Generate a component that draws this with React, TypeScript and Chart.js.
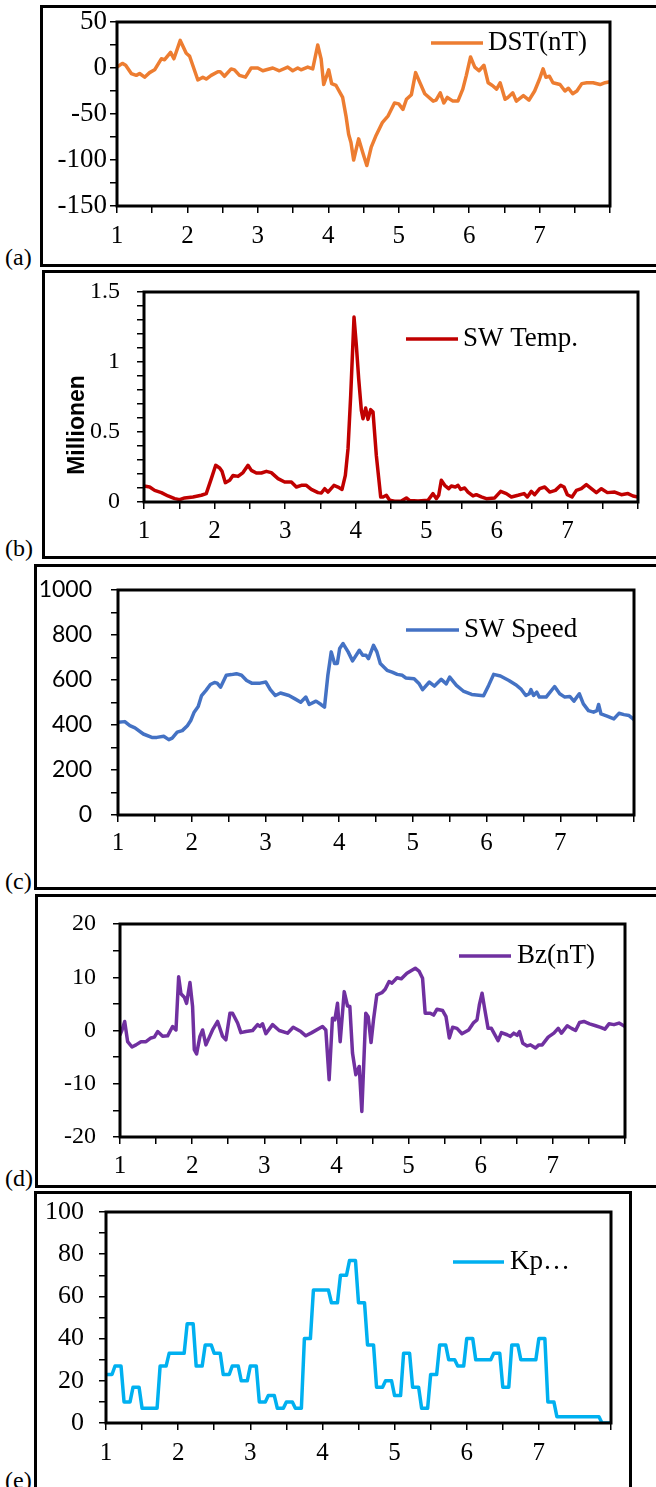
import React, { useEffect, useRef } from 'react';
import { Chart, registerables } from 'chart.js';
Chart.register(...registerables);

const SERIF = '"Liberation Serif", "Times New Roman", Times, serif';
const SANS = 'Lato, "Liberation Sans", sans-serif';

// ---------- DATA (x in days 1..8) ----------
const dstX = [1.000,1.076,1.123,1.203,1.274,1.321,1.392,1.463,1.534,1.629,1.676,1.761,1.808,1.898,1.983,2.030,2.148,2.219,2.267,2.337,2.432,2.465,2.526,2.621,2.668,2.739,2.824,2.905,2.999,3.070,3.212,3.306,3.424,3.495,3.566,3.613,3.708,3.779,3.850,3.898,3.935,4.006,4.048,4.110,4.204,4.251,4.289,4.322,4.360,4.431,4.490,4.547,4.610,4.680,4.770,4.850,4.940,5.000,5.060,5.110,5.180,5.240,5.290,5.370,5.490,5.530,5.590,5.640,5.690,5.770,5.840,5.910,5.960,6.020,6.080,6.140,6.210,6.270,6.330,6.390,6.440,6.510,6.550,6.620,6.670,6.770,6.850,6.930,7.000,7.050,7.090,7.140,7.190,7.290,7.360,7.410,7.470,7.530,7.600,7.670,7.760,7.860,7.930,8.000];
const dstNT = [1,5,3,-6,-8,-6,-10,-5,-2,10,9,17,10,30,16,13,-13,-10,-12,-8,-4,-4,-9,-1,-2,-8,-10,0,0,-3,0,-3,1,-3,0,-2,1,-1,25,10,-18,-2,-17,-19,-32,-52,-72,-81,-100,-77,-92,-106,-86,-73,-59,-52,-38,-39,-45,-34,-29,-5,-14,-28,-36,-35,-27,-38,-32,-36,-36,-23,-8,12,1,-3,3,-16,-19,-23,-16,-34,-32,-27,-36,-30,-35,-25,-12,-1,-10,-9,-16,-18,-25,-22,-28,-25,-17,-16,-16,-18,-16,-15];

const tempX = [1.000,1.080,1.151,1.246,1.340,1.435,1.505,1.576,1.694,1.812,1.882,1.954,2.016,2.072,2.105,2.153,2.214,2.261,2.332,2.403,2.474,2.521,2.592,2.663,2.734,2.804,2.899,2.993,3.088,3.159,3.230,3.300,3.371,3.466,3.513,3.560,3.607,3.692,3.749,3.806,3.853,3.891,3.929,3.976,4.009,4.042,4.080,4.103,4.141,4.174,4.212,4.245,4.292,4.354,4.387,4.434,4.481,4.552,4.647,4.718,4.765,4.883,5.025,5.095,5.142,5.176,5.213,5.261,5.317,5.355,5.412,5.450,5.487,5.544,5.591,5.662,5.709,5.780,5.851,5.969,6.054,6.135,6.206,6.300,6.385,6.432,6.489,6.536,6.607,6.678,6.749,6.829,6.905,6.952,6.999,7.065,7.127,7.197,7.268,7.339,7.410,7.481,7.566,7.670,7.764,7.858,7.929,8.000];
const tempK = [114000,107000,83000,67000,43000,24000,17000,29000,36000,48000,60000,167000,262000,243000,219000,138000,155000,190000,183000,210000,262000,226000,207000,207000,219000,210000,167000,143000,143000,107000,119000,119000,90000,67000,64000,95000,71000,119000,107000,90000,190000,381000,762000,1321000,1119000,881000,655000,595000,671000,590000,660000,643000,333000,36000,36000,48000,12000,5000,7000,29000,10000,7000,12000,60000,24000,48000,155000,119000,95000,114000,107000,119000,90000,100000,71000,43000,52000,36000,24000,29000,76000,60000,36000,48000,60000,36000,76000,52000,95000,107000,71000,83000,119000,107000,52000,36000,83000,95000,124000,95000,67000,95000,67000,71000,52000,60000,43000,36000];

const speedX = [1.000,1.092,1.161,1.230,1.344,1.459,1.528,1.620,1.689,1.735,1.803,1.872,1.941,1.987,2.033,2.088,2.134,2.194,2.253,2.309,2.345,2.391,2.469,2.538,2.607,2.676,2.745,2.814,2.928,3.006,3.066,3.135,3.204,3.319,3.401,3.479,3.548,3.594,3.686,3.755,3.801,3.847,3.893,3.938,3.975,4.007,4.053,4.122,4.182,4.274,4.320,4.365,4.398,4.466,4.512,4.558,4.650,4.719,4.788,4.857,4.903,5.017,5.086,5.132,5.224,5.293,5.385,5.454,5.500,5.591,5.683,5.798,5.959,6.028,6.096,6.188,6.303,6.395,6.464,6.533,6.579,6.602,6.638,6.680,6.716,6.808,6.923,6.992,7.061,7.129,7.185,7.258,7.313,7.382,7.451,7.497,7.520,7.552,7.635,7.727,7.796,7.864,7.933,8.000];
const speedKms = [412,415,397,387,360,345,345,350,335,342,368,375,397,420,457,482,531,554,580,589,586,568,621,624,628,621,598,586,586,591,557,531,542,531,516,501,524,491,506,491,479,621,725,673,673,740,762,725,685,732,710,710,695,754,725,673,643,635,625,621,609,606,583,557,591,573,603,583,613,576,551,536,530,576,625,618,598,579,561,531,539,557,531,546,524,524,571,539,524,527,506,539,494,464,457,464,491,449,439,427,452,446,442,424];

const bzX = [1.000,1.028,1.065,1.106,1.166,1.222,1.291,1.360,1.429,1.476,1.522,1.591,1.660,1.729,1.776,1.813,1.845,1.891,1.923,1.970,2.006,2.030,2.062,2.108,2.145,2.191,2.283,2.353,2.422,2.468,2.524,2.560,2.630,2.676,2.745,2.838,2.907,2.939,2.976,3.022,3.115,3.207,3.322,3.401,3.507,3.576,3.659,3.807,3.853,3.899,3.945,3.978,4.015,4.052,4.108,4.154,4.186,4.223,4.269,4.316,4.352,4.407,4.440,4.480,4.514,4.560,4.630,4.676,4.730,4.770,4.840,4.900,4.977,5.093,5.148,5.194,5.230,5.300,5.347,5.394,5.472,5.519,5.565,5.611,5.671,5.740,5.833,5.903,5.949,5.981,6.019,6.056,6.102,6.148,6.241,6.287,6.366,6.412,6.458,6.505,6.537,6.583,6.644,6.690,6.759,6.806,6.852,6.935,7.014,7.074,7.120,7.199,7.259,7.315,7.370,7.430,7.509,7.593,7.662,7.722,7.778,7.847,7.917,8.000];
const bzNT = [-0.8,0.1,1.7,-2.1,-3.1,-2.7,-2.1,-2.1,-1.4,-1.25,-0.2,-1.1,-1.0,0.75,0.1,10.1,6.9,6.25,5.1,9.0,4.5,-3.6,-4.4,-1.1,0.1,-2.7,0.1,1.7,-1.1,-1.75,3.25,3.25,1.4,-0.4,-0.2,0,1.1,0.75,1.25,-0.6,1.1,0,-0.5,0.6,-0.2,-1.0,-0.4,0.75,0.1,-9.25,2.3,2.0,5.1,-2.1,7.3,4.6,4.5,-4.25,-8.3,-6.75,-15.2,3.25,2.6,-2.25,2.0,6.7,7.1,7.75,9.2,8.9,9.9,9.7,10.75,11.7,11.1,9.8,3.25,3.25,2.9,4.0,3.75,2.6,-1.4,0.6,0.4,-0.6,0.1,1.5,2.0,4.8,7.0,4.0,0.4,0.4,-1.9,-0.4,-0.8,-1.1,-0.5,-0.9,-0.2,-2.4,-2.9,-2.7,-3.3,-2.7,-2.7,-1.25,-0.5,0.4,-0.5,0.9,0.4,0,1.5,1.7,1.25,0.9,0.6,0.25,1.25,1.1,1.4,0.75];

// Kp x10, one value per 3-hour interval (8 per day, 7 days)
const kp3h = [23,27,10,17,7,7,27,33,33,47,27,37,33,23,27,20,27,10,13,7,10,7,40,63,63,57,70,77,57,37,17,20,13,33,17,7,23,37,30,27,40,30,30,33,17,37,30,30,40,10,3,3,3,3,3,0];

const xTickLabels = ['1', '2', '3', '4', '5', '6', '7'];

// ---------- build points ----------
const pairs = (xs: number[], ys: number[]) => xs.map((x, i) => ({ x, y: ys[i] }));
const kpPoints = (() => {
  const pts: { x: number; y: number }[] = [];
  for (let h = 0; h <= kp3h.length * 3; h++) {
    const v = kp3h[Math.min(Math.floor(h / 3), kp3h.length - 1)];
    pts.push({ x: 1 + h / 24, y: v });
  }
  return pts;
})();

const W = 656;
const X_AXIS_H = 50;

type PanelDef = {
  top: number; h: number;
  plot: { l: number; t: number; r: number; b: number };
  yMin: number; yMax: number; yStep: number; yLabelEvery: number; yDiv: number;
  yFont: string; ySize: number; yPad: number; xPad: number; xSize: number;
  label: string; color: string; points: { x: number; y: number }[];
  legend: { x1: number; x2: number; y: number; tx: number };
  yTitle?: { text: string; x: number; y: number };
};

const PANELS: PanelDef[] = [
  { top: 0, h: 270, plot: { l: 117, t: 22, r: 610, b: 206 }, yMin: -150, yMax: 50, yStep: 25, yLabelEvery: 50, yDiv: 1,
    yFont: SERIF, ySize: 27, yPad: 3, xPad: 8, xSize: 25, label: 'DST(nT)', color: '#ED7D31', points: pairs(dstX, dstNT),
    legend: { x1: 431, x2: 483, y: 43, tx: 488 } },
  { top: 270, h: 290, plot: { l: 144, t: 292, r: 638, b: 502 }, yMin: 0, yMax: 1500000, yStep: 100000, yLabelEvery: 500000, yDiv: 1000000,
    yFont: SERIF, ySize: 24, yPad: 17, xPad: 7, xSize: 25, label: 'SW Temp.', color: '#C00000', points: pairs(tempX, tempK),
    legend: { x1: 406, x2: 458, y: 339, tx: 463 }, yTitle: { text: 'Millionen', x: 78, y: 425 } },
  { top: 560, h: 330, plot: { l: 118, t: 590, r: 634, b: 815 }, yMin: 0, yMax: 1000, yStep: 100, yLabelEvery: 200, yDiv: 1,
    yFont: SANS, ySize: 23, yPad: 19, xPad: 6, xSize: 25, label: 'SW Speed', color: '#4472C4', points: pairs(speedX, speedKms),
    legend: { x1: 406, x2: 459, y: 630, tx: 464 } },
  { top: 890, h: 300, plot: { l: 120, t: 924, r: 625, b: 1137 }, yMin: -20, yMax: 20, yStep: 5, yLabelEvery: 10, yDiv: 1,
    yFont: SERIF, ySize: 24, yPad: 17, xPad: 7, xSize: 25, label: 'Bz(nT)', color: '#7030A0', points: pairs(bzX, bzNT),
    legend: { x1: 459, x2: 511, y: 956, tx: 517 } },
  { top: 1190, h: 297, plot: { l: 106, t: 1212, r: 611, b: 1423 }, yMin: 0, yMax: 100, yStep: 10, yLabelEvery: 20, yDiv: 1,
    yFont: SERIF, ySize: 26, yPad: 15, xPad: 8, xSize: 25, label: 'Kp…', color: '#00B0F0', points: kpPoints,
    legend: { x1: 453, x2: 504, y: 1262, tx: 510 } },
];

const FRAMES = [
  { left: 40, top: 5, width: 700, height: 262, tag: '(a)', ty: 245 },
  { left: 42, top: 270, width: 700, height: 289, tag: '(b)', ty: 536 },
  { left: 34, top: 564, width: 700, height: 326, tag: '(c)', ty: 869 },
  { left: 35, top: 894, width: 700, height: 294, tag: '(d)', ty: 1166 },
  { left: 34, top: 1191, width: 598, height: 400, tag: '(e)', ty: 1468 },
];

function Panel({ p }: { p: PanelDef }) {
  const ref = useRef<HTMLCanvasElement>(null);
  useEffect(() => {
    const canvas = ref.current;
    if (!canvas) return;
    const overlay = {
      id: 'overlay',
      afterDatasetsDraw(chart: any) {
        const { ctx, chartArea: a } = chart;
        ctx.save();
        ctx.strokeStyle = '#000';
        ctx.lineWidth = 3;
        ctx.strokeRect(a.left, a.top, a.right - a.left, a.bottom - a.top);
        const ly = p.legend.y - p.top;
        ctx.strokeStyle = p.color;
        ctx.lineWidth = 3.5;
        ctx.beginPath();
        ctx.moveTo(p.legend.x1, ly);
        ctx.lineTo(p.legend.x2, ly);
        ctx.stroke();
        ctx.fillStyle = '#000';
        ctx.font = `27px ${SERIF}`;
        ctx.textBaseline = 'middle';
        ctx.textAlign = 'left';
        ctx.fillText(p.label, p.legend.tx, ly);
        if (p.yTitle) {
          ctx.translate(p.yTitle.x, p.yTitle.y - p.top);
          ctx.rotate(-Math.PI / 2);
          ctx.font = `bold 23px "Liberation Sans", Arial, sans-serif`;
          ctx.textAlign = 'center';
          ctx.fillText(p.yTitle.text, 0, 0);
        }
        ctx.restore();
      },
    };
    const tickGrid = { drawOnChartArea: false, drawTicks: true, tickLength: 7, color: '#000', lineWidth: 1.5 };
    const chart = new Chart(canvas, {
      type: 'line',
      data: {
        datasets: [{
          label: p.label, data: p.points, borderColor: p.color, backgroundColor: p.color,
          borderWidth: 3.5, pointRadius: 0, tension: 0, borderJoinStyle: 'round', borderCapStyle: 'round', fill: false,
        }],
      },
      options: {
        responsive: false,
        maintainAspectRatio: false,
        animation: false,
        events: [],
        layout: {
          padding: {
            left: 0,
            top: p.plot.t - p.top,
            right: W - p.plot.r,
            bottom: p.top + p.h - p.plot.b - X_AXIS_H,
          },
        },
        plugins: { legend: { display: false }, tooltip: { enabled: false } },
        scales: {
          x: {
            type: 'linear', min: 1, max: 8,
            border: { display: false },
            grid: tickGrid,
            ticks: {
              stepSize: 0.5, autoSkip: false, maxRotation: 0, minRotation: 0, padding: p.xPad, color: '#000',
              font: { family: SERIF, size: p.xSize },
              callback: (v: any) => {
                const n = Number(v);
                return Number.isInteger(n) && n - 1 < xTickLabels.length ? xTickLabels[n - 1] : '';
              },
            },
            afterFit: (s: any) => { s.height = X_AXIS_H; s.paddingLeft = 0; s.paddingRight = 0; },
          },
          y: {
            type: 'linear', min: p.yMin, max: p.yMax,
            border: { display: false },
            grid: tickGrid,
            ticks: {
              stepSize: p.yStep, autoSkip: false, padding: p.yPad, color: '#000',
              font: { family: p.yFont, size: p.ySize },
              callback: (v: any) => {
                const n = Number(v);
                const r = n / p.yLabelEvery;
                return Math.abs(r - Math.round(r)) < 1e-9 ? String(Math.round((n / p.yDiv) * 1000) / 1000) : '';
              },
            },
            afterFit: (s: any) => { s.width = p.plot.l; s.paddingTop = 0; s.paddingBottom = 0; },
          },
        },
      } as any,
      plugins: [overlay],
    });
    return () => chart.destroy();
  }, [p]);
  return (
    <canvas ref={ref} width={W} height={p.h}
      style={{ position: 'absolute', left: 0, top: p.top, width: W, height: p.h, display: 'block' }} />
  );
}

export default function App() {
  return (
    <div style={{ position: 'absolute', left: 0, top: 0, width: W, height: 1487, overflow: 'hidden', background: '#fff' }}>
      {FRAMES.map((f) => (
        <React.Fragment key={f.tag}>
          <div style={{ position: 'absolute', left: f.left, top: f.top, width: f.width, height: f.height,
            border: '3px solid #000', boxSizing: 'border-box' }} />
          <div style={{ position: 'absolute', left: 5, top: f.ty, fontFamily: SERIF, fontSize: 24, lineHeight: '24px', color: '#000' }}>
            {f.tag}
          </div>
        </React.Fragment>
      ))}
      {PANELS.map((p) => <Panel key={p.label} p={p} />)}
    </div>
  );
}
